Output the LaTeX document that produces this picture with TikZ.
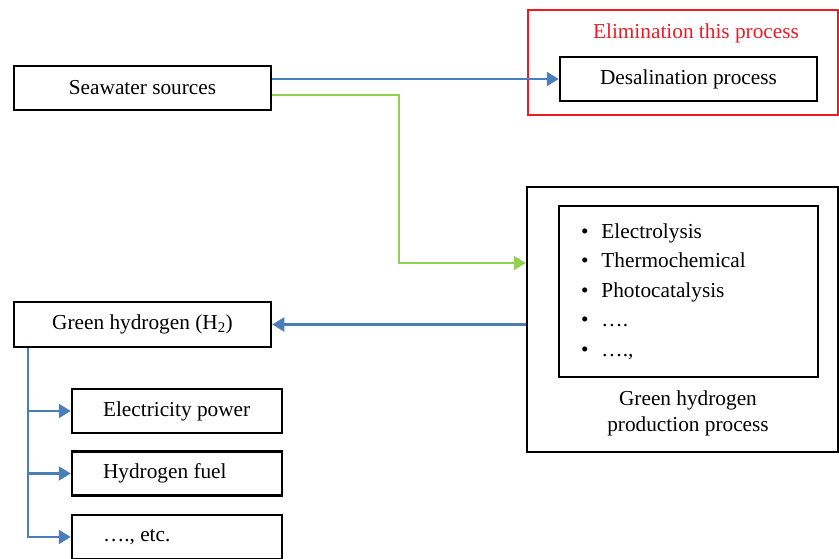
\documentclass[tikz,border=0pt]{standalone}
\usepackage{fontspec}
\setmainfont{Liberation Serif}
\usetikzlibrary{positioning,arrows.meta}
\definecolor{flowblue}{RGB}{74,126,187}
\definecolor{flowgreen}{RGB}{146,208,80}
\definecolor{elimred}{RGB}{237,28,36}
\def\lft#1{\makebox[148pt][l]{#1}}

\begin{document}
\begin{tikzpicture}[>={Triangle[width=14pt,length=12pt]}, box/.style={draw, line width=2.5pt, minimum width=257pt, minimum height=44pt, inner sep=0pt}, usebox/.style={draw, line width=2.5pt, minimum width=210pt, minimum height=44pt, inner xsep=31pt, inner ysep=0pt}, blueline/.style={flowblue, line width=2.2pt}, greenline/.style={flowgreen, line width=2.2pt}, font=\fontsize{21.3}{25}\selectfont]
		\useasboundingbox (0pt, 0pt) rectangle (839pt, -559pt);
		\draw (683pt, -62.5pt)node[draw=elimred, line width=2.2pt, minimum width=310pt, minimum height=105pt](elim){};
		\draw (696pt, -33pt)node[text=elimred](elimtext){Elimination this process};
		\draw (142.5pt, -88pt)node[box](sea){Seawater sources};
		\draw (688.5pt, -79pt)node[box](desal){Desalination process};
		\draw (682.5pt, -319.5pt)node[draw, line width=2.5pt, minimum width=311pt, minimum height=265pt](prod){};
		\draw (688.5pt, -291.5pt)node[draw, line width=2.5pt, minimum height=171pt, text width=215pt, inner xsep=22pt, align=left, font=\fontsize{21.3}{29.5}\selectfont](methods){\textbullet\hspace{13pt}Electrolysis\\\textbullet\hspace{13pt}Thermochemical\\\textbullet\hspace{13pt}Photocatalysis\\\textbullet\hspace{13pt}….\\\textbullet\hspace{13pt}….,};
		\draw (688pt, -413pt)node[align=center, font=\fontsize{21.3}{26}\selectfont](prodlabel){Green hydrogen\\production process};
		\draw (142.5pt, -324.5pt)node[box, minimum height=45pt](h2){Green hydrogen (H\textsubscript{2})};
		\draw (177pt, -411pt)node[usebox](elec){\lft{Electricity power}};
		\draw (177pt, -473.5pt)node[usebox](fuel){\lft{Hydrogen fuel}};
		\draw (177pt, -537pt)node[usebox](etc){\lft{…., etc.}};
		\coordinate (trunk) at ([xshift=15pt]h2.south west);
		\path[->, blueline] (desal.west -| sea.east) edge (desal.west);
		\draw[->, greenline] ([yshift=-7pt]sea.east) -- ++(127pt, 0pt) |- ([yshift=56.5pt]prod.west);
		\path[->, blueline] (h2.east -| prod.west) edge (h2.east);
		\draw[->, blueline] (trunk) |- (etc.west);
		\path[->, blueline] (elec.west -| trunk) edge (elec.west);
		\path[->, blueline] (fuel.west -| trunk) edge (fuel.west);
		\end{tikzpicture}
\end{document}
